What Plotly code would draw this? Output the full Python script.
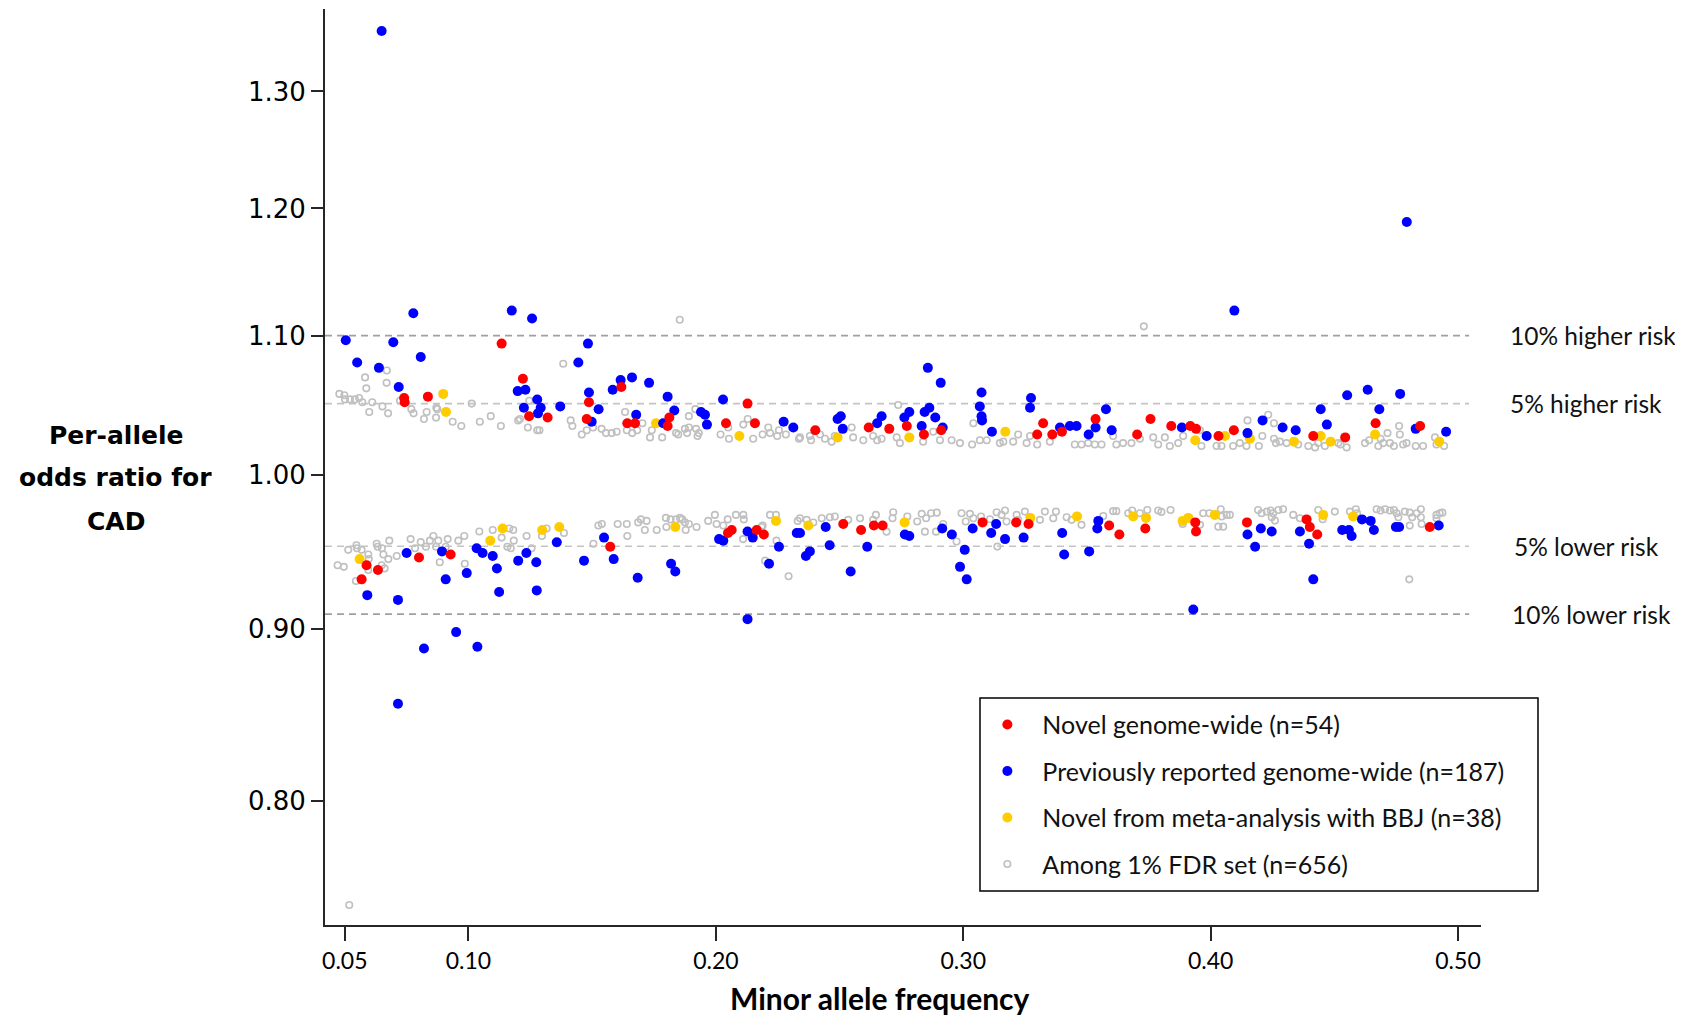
import math
import plotly.graph_objects as go

# ---------------- data ----------------
novel_maf = [0.1134, 0.0740, 0.0742, 0.0836, 0.1220, 0.1245, 0.1320, 0.1618, 0.1487, 0.1478,
             0.1642, 0.1673, 0.1812, 0.1805, 0.2041, 0.2128, 0.2158, 0.2402, 0.2618, 0.2701,
             0.2772, 0.2841, 0.2911, 0.3299, 0.3323, 0.3360, 0.3399, 0.3535, 0.3703, 0.3757,
             0.3841, 0.3918, 0.3941, 0.4032, 0.4094, 0.4667, 0.4847, 0.4415, 0.4544,
             0.0568, 0.0588, 0.0634, 0.0800, 0.0928, 0.1573, 0.2049, 0.2064, 0.2165, 0.2194,
             0.2515, 0.2587, 0.2639, 0.2674, 0.3078, 0.3214, 0.3264, 0.3590, 0.3631, 0.3736,
             0.3938, 0.3941, 0.4147, 0.4388, 0.4401, 0.4431, 0.4886]
novel_or = [1.094, 1.054, 1.051, 1.055, 1.068, 1.041, 1.040, 1.062, 1.051, 1.039,
            1.036, 1.036, 1.040, 1.034, 1.036, 1.050, 1.036, 1.031, 1.033, 1.032,
            1.034, 1.028, 1.031, 1.028, 1.036, 1.028, 1.030, 1.039, 1.028, 1.039,
            1.034, 1.034, 1.032, 1.027, 1.031, 1.036, 1.034, 1.027, 1.026,
            0.931, 0.940, 0.937, 0.945, 0.947, 0.952, 0.961, 0.963, 0.963, 0.960,
            0.967, 0.963, 0.966, 0.966, 0.968, 0.968, 0.967, 0.966, 0.960, 0.964,
            0.968, 0.962, 0.968, 0.970, 0.965, 0.960, 0.965]

prev_maf = [0.0649, 0.0504, 0.0550, 0.0638, 0.0696, 0.0777, 0.0807, 0.0718, 0.1175, 0.1257,
            0.1483, 0.1444, 0.1199, 0.1230, 0.1278, 0.1224, 0.1292, 0.1281, 0.1371, 0.1487,
            0.1498, 0.1526, 0.1583, 0.1615, 0.1661, 0.1730, 0.1678, 0.1805, 0.1832, 0.1787,
            0.1940, 0.1956, 0.1964, 0.2029, 0.2274, 0.2313,
            0.4096, 0.2857, 0.2909, 0.3074, 0.3067, 0.3074, 0.3076, 0.3274, 0.3270, 0.2492,
            0.2505, 0.2513, 0.2652, 0.2670, 0.2762, 0.2782, 0.2832, 0.2844, 0.2863, 0.2887,
            0.2917, 0.3116, 0.3391, 0.3431, 0.3458, 0.3507, 0.3535, 0.3577, 0.3600, 0.3884,
            0.3984, 0.4149, 0.4210, 0.4291, 0.4344,
            0.4552, 0.4635, 0.4766, 0.4445, 0.4682, 0.4470, 0.4829, 0.4952, 0.4793,
            0.0591, 0.0715, 0.0715, 0.0750, 0.0820, 0.0893, 0.0908, 0.0950, 0.0993, 0.1036,
            0.1033, 0.1057, 0.1098, 0.1115, 0.1124, 0.1201, 0.1234, 0.1274, 0.1276, 0.1357,
            0.1467, 0.1548, 0.1587, 0.1684, 0.1819, 0.1836, 0.2013, 0.2030, 0.2128, 0.2149,
            0.2128, 0.2215, 0.2255, 0.2327,
            0.3930, 0.2340, 0.2364, 0.2380, 0.2444, 0.2460, 0.2545, 0.2612, 0.2764, 0.2782,
            0.2915, 0.2954, 0.2987, 0.3006, 0.3014, 0.3038, 0.3113, 0.3133, 0.3169, 0.3244,
            0.3400, 0.3408, 0.3509, 0.3542, 0.3546, 0.4149, 0.4180, 0.4203, 0.4247, 0.4361,
            0.4415, 0.4398, 0.4532, 0.4559, 0.4570, 0.4612, 0.4647, 0.4660, 0.4749, 0.4762,
            0.4922]
prev_or = [1.355, 1.0965, 1.080, 1.076, 1.095, 1.117, 1.084, 1.062, 1.119, 1.113,
           1.094, 1.080, 1.059, 1.060, 1.053, 1.047, 1.047, 1.043, 1.048, 1.058,
           1.037, 1.046, 1.060, 1.067, 1.069, 1.065, 1.042, 1.055, 1.045, 1.036,
           1.044, 1.042, 1.035, 1.053, 1.037, 1.033,
           1.119, 1.076, 1.065, 1.058, 1.048, 1.041, 1.038, 1.054, 1.047, 1.039,
           1.041, 1.032, 1.036, 1.041, 1.040, 1.044, 1.034, 1.044, 1.047, 1.040,
           1.033, 1.030, 1.033, 1.034, 1.034, 1.028, 1.033, 1.046, 1.031, 1.033,
           1.027, 1.029, 1.038, 1.033, 1.031,
           1.056, 1.060, 1.057, 1.046, 1.046, 1.035, 1.032, 1.030, 1.189,
           0.921, 0.918, 0.855, 0.948, 0.888, 0.949, 0.931, 0.898, 0.935, 0.889,
           0.951, 0.948, 0.946, 0.938, 0.923, 0.943, 0.948, 0.942, 0.924, 0.955,
           0.943, 0.958, 0.944, 0.932, 0.941, 0.936, 0.957, 0.956, 0.962, 0.958,
           0.906, 0.941, 0.952, 0.961,
           0.912, 0.961, 0.946, 0.949, 0.965, 0.953, 0.936, 0.952, 0.960, 0.959,
           0.964, 0.960, 0.939, 0.950, 0.931, 0.964, 0.961, 0.967, 0.957, 0.958,
           0.961, 0.947, 0.949, 0.964, 0.969, 0.960, 0.952, 0.964, 0.962, 0.962,
           0.931, 0.954, 0.963, 0.963, 0.959, 0.970, 0.969, 0.963, 0.965, 0.965,
           0.966]

bbj_maf = [0.0898, 0.0909, 0.1758, 0.2095, 0.2492, 0.2782, 0.3170, 0.3938, 0.4058, 0.4159,
           0.4337, 0.4445, 0.4485, 0.4665, 0.4924,
           0.0560, 0.1088, 0.1138, 0.1298, 0.1367, 0.1836, 0.2243, 0.2374, 0.2763, 0.3271,
           0.3460, 0.3687, 0.3739, 0.3887, 0.3910, 0.4017, 0.4455, 0.4576]
bbj_or = [1.057, 1.044, 1.036, 1.027, 1.026, 1.026, 1.030, 1.024, 1.027, 1.025,
          1.023, 1.027, 1.023, 1.028, 1.023,
          0.944, 0.956, 0.964, 0.963, 0.965, 0.965, 0.969, 0.966, 0.968, 0.971,
          0.972, 0.972, 0.971, 0.969, 0.971, 0.973, 0.973, 0.972]

fdr_maf = [0.1854, 0.1383, 0.0582, 0.0587, 0.0670, 0.0669, 0.0478, 0.0498, 0.0501, 0.0521,
           0.0541, 0.0558, 0.0571, 0.0611, 0.0599, 0.0652, 0.0675, 0.0723, 0.0769, 0.0778,
           0.0820, 0.0831, 0.0870, 0.0874, 0.0869, 0.0936, 0.0971, 0.1013, 0.1046, 0.1090,
           0.1131, 0.1201, 0.1208, 0.1240, 0.1278, 0.1287, 0.1246, 0.1413, 0.1420, 0.1458,
           0.1478, 0.1504, 0.1538, 0.1556, 0.1579, 0.1599, 0.1633, 0.1640, 0.1662, 0.1682,
           0.1703, 0.1734, 0.1741, 0.1783, 0.1839, 0.1848, 0.1875, 0.1884, 0.1891, 0.1920,
           0.1926, 0.1931, 0.1891, 0.1917, 0.2019, 0.2053, 0.2050, 0.2111, 0.2129, 0.2151,
           0.2189, 0.2212, 0.2219, 0.2248, 0.2255, 0.2283, 0.2336,
           0.3730, 0.2737, 0.3041, 0.2549, 0.2340, 0.2380, 0.2385, 0.2421, 0.2441, 0.2468,
           0.2481, 0.2555, 0.2596, 0.2636, 0.2652, 0.2670, 0.2731, 0.2744, 0.2838, 0.2879,
           0.2906, 0.2953, 0.2987, 0.3036, 0.3067, 0.3095, 0.3148, 0.3162, 0.3202, 0.3222,
           0.3256, 0.3270, 0.3299, 0.3350, 0.3451, 0.3478, 0.3505, 0.3532, 0.3559, 0.3606,
           0.3619, 0.3646, 0.3680, 0.3714, 0.3768, 0.3788, 0.3815, 0.3835, 0.3869, 0.3889,
           0.3957, 0.3963, 0.4024, 0.4044, 0.4091, 0.4118, 0.4145, 0.4149,
           0.4233, 0.4256, 0.4209, 0.4195, 0.4256, 0.4264, 0.4280, 0.4307, 0.4354, 0.4395,
           0.4422, 0.4435, 0.4462, 0.4516, 0.4525, 0.4550, 0.4624, 0.4641, 0.4678, 0.4687,
           0.4698, 0.4715, 0.4725, 0.4762, 0.4765, 0.4741, 0.4778, 0.4792, 0.4829, 0.4859,
           0.4907, 0.4913, 0.4944,
           0.0518, 0.0471, 0.0496, 0.0514, 0.0547, 0.0549, 0.0568, 0.0545, 0.0595, 0.0597,
           0.0595, 0.0629, 0.0633, 0.0650, 0.0656, 0.0676, 0.0649, 0.0661, 0.0680, 0.0710,
           0.0766, 0.0784, 0.0807, 0.0828, 0.0844, 0.0858, 0.0869, 0.0878, 0.0908, 0.0916,
           0.0884, 0.0959, 0.0983, 0.0985, 0.1044, 0.1098, 0.1134, 0.1165, 0.1181, 0.1183,
           0.1157, 0.1171, 0.1235, 0.1255, 0.1316, 0.1297, 0.1386, 0.1505, 0.1525, 0.1539,
           0.1603, 0.1640, 0.1642, 0.1686, 0.1697, 0.1720, 0.1713, 0.1761, 0.1798, 0.1800,
           0.1817, 0.1839, 0.1855, 0.1864, 0.1875, 0.1891, 0.1878, 0.1922, 0.1969, 0.1996,
           0.2003, 0.2030, 0.2048, 0.2081, 0.2111, 0.2113, 0.2110, 0.2185, 0.2189, 0.2199,
           0.2219, 0.2243, 0.2245, 0.2294, 0.2331,
           0.2340, 0.2367, 0.2394, 0.2428, 0.2461, 0.2481, 0.2535, 0.2583, 0.2636, 0.2647,
           0.2690, 0.2717, 0.2714, 0.2774, 0.2814, 0.2832, 0.2850, 0.2870, 0.2893, 0.2845,
           0.2890, 0.2919, 0.2973, 0.2993, 0.3010, 0.3027, 0.3041, 0.3072, 0.3108, 0.3135,
           0.3138, 0.3155, 0.3169, 0.3175, 0.3216, 0.3222, 0.3249, 0.3310, 0.3330, 0.3364,
           0.3375, 0.3418, 0.3438, 0.3478, 0.3566, 0.3606, 0.3619, 0.3667, 0.3683, 0.3714,
           0.3744, 0.3788, 0.3801, 0.3838, 0.3887, 0.3957, 0.3970, 0.3995, 0.4031, 0.4041,
           0.4051, 0.4045, 0.4065, 0.4078,
           0.4192, 0.4206, 0.4227, 0.4243, 0.4253, 0.4247, 0.4260, 0.4274, 0.4293, 0.4334,
           0.4361, 0.4435, 0.4453, 0.4502, 0.4563, 0.4587, 0.4592, 0.4671, 0.4687, 0.4705,
           0.4725, 0.4741, 0.4752, 0.4759, 0.4785, 0.4805, 0.4815, 0.4833, 0.4850, 0.4850,
           0.4853, 0.4805, 0.4913, 0.4926, 0.4937, 0.4913, 0.4803]
fdr_or = [1.112, 1.079, 1.069, 1.061, 1.074, 1.065, 1.057, 1.056, 1.053, 1.053,
          1.053, 1.054, 1.051, 1.051, 1.044, 1.048, 1.043, 1.052, 1.046, 1.043,
          1.039, 1.044, 1.047, 1.046, 1.040, 1.037, 1.034, 1.050, 1.037, 1.041,
          1.034, 1.038, 1.039, 1.033, 1.031, 1.031, 1.052, 1.038, 1.034, 1.028,
          1.031, 1.033, 1.032, 1.029, 1.029, 1.030, 1.044, 1.031, 1.029, 1.031,
          1.036, 1.026, 1.031, 1.026, 1.029, 1.028, 1.032, 1.029, 1.033, 1.032,
          1.027, 1.029, 1.041, 1.046, 1.028, 1.025, 1.033, 1.035, 1.039, 1.025,
          1.028, 1.033, 1.029, 1.027, 1.031, 1.028, 1.025,
          1.107, 1.049, 1.036, 1.033, 1.026, 1.027, 1.024, 1.028, 1.025, 1.023,
          1.027, 1.026, 1.024, 1.027, 1.024, 1.025, 1.026, 1.022, 1.023, 1.030,
          1.024, 1.024, 1.022, 1.021, 1.024, 1.024, 1.022, 1.023, 1.023, 1.028,
          1.022, 1.027, 1.021, 1.023, 1.021, 1.021, 1.022, 1.021, 1.021, 1.027,
          1.021, 1.022, 1.022, 1.025, 1.026, 1.021, 1.026, 1.020, 1.022, 1.027,
          1.031, 1.020, 1.020, 1.020, 1.020, 1.022, 1.020, 1.038,
          1.042, 1.036, 1.027, 1.020, 1.025, 1.022, 1.023, 1.022, 1.021, 1.020,
          1.019, 1.022, 1.020, 1.022, 1.021, 1.019, 1.022, 1.024, 1.020, 1.025,
          1.022, 1.029, 1.022, 1.034, 1.028, 1.020, 1.021, 1.022, 1.020, 1.020,
          1.026, 1.021, 1.020,
          0.745, 0.940, 0.939, 0.950, 0.953, 0.951, 0.950, 0.930, 0.947, 0.944,
          0.937, 0.954, 0.952, 0.951, 0.947, 0.944, 0.940, 0.938, 0.956, 0.946,
          0.957, 0.951, 0.955, 0.952, 0.956, 0.959, 0.952, 0.956, 0.952, 0.957,
          0.942, 0.956, 0.959, 0.941, 0.962, 0.963, 0.958, 0.964, 0.963, 0.956,
          0.952, 0.951, 0.959, 0.951, 0.964, 0.959, 0.961, 0.954, 0.966, 0.967,
          0.967, 0.967, 0.959, 0.968, 0.970, 0.969, 0.963, 0.963, 0.971, 0.965,
          0.970, 0.970, 0.971, 0.970, 0.968, 0.967, 0.963, 0.965, 0.969, 0.973,
          0.967, 0.966, 0.970, 0.973, 0.973, 0.970, 0.957, 0.965, 0.966, 0.943,
          0.973, 0.973, 0.956, 0.933, 0.969,
          0.9708, 0.9697, 0.9679, 0.9708, 0.9714, 0.9719, 0.9697, 0.9708, 0.9697, 0.9730,
          0.9619, 0.9748, 0.9708, 0.9719, 0.9686, 0.9737, 0.9708, 0.9741, 0.9745, 0.9619,
          0.9619, 0.9670, 0.9554, 0.9741, 0.9686, 0.9737, 0.9708, 0.9719, 0.9701, 0.9748,
          0.9521, 0.9730, 0.9759, 0.9686, 0.9730, 0.9697, 0.9752, 0.9697, 0.9752, 0.9708,
          0.9752, 0.9714, 0.9697, 0.9664, 0.9723, 0.9755, 0.9755, 0.9741, 0.9759, 0.9741,
          0.9763, 0.9759, 0.9750, 0.9763, 0.9670, 0.9664, 0.9741, 0.9741, 0.9652, 0.9768,
          0.9652, 0.9719, 0.9730, 0.9730,
          0.9763, 0.9741, 0.9752, 0.9759, 0.9741, 0.9714, 0.9692, 0.9763, 0.9768, 0.9730,
          0.9708, 0.9763, 0.9701, 0.9752, 0.9752, 0.9768, 0.9741, 0.9768, 0.9759, 0.9768,
          0.9759, 0.9763, 0.9741, 0.9714, 0.9752, 0.9745, 0.9714, 0.9741, 0.9768, 0.9714,
          0.9670, 0.9659, 0.9730, 0.9741, 0.9745, 0.9708, 0.931]

series_names = ["Novel genome-wide (n=54)",
                "Previously reported genome-wide (n=187)",
                "Novel from meta-analysis with BBJ (n=38)",
                "Among 1% FDR set (n=656)"]

risk_levels = [1.10, 1.05, 1 / 1.05, 1 / 1.10]
risk_labels = ["10% higher risk", "5% higher risk", "5% lower risk", "10% lower risk"]

x_ticks = [0.05, 0.10, 0.20, 0.30, 0.40, 0.50]
y_ticks = [0.80, 0.90, 1.00, 1.10, 1.20, 1.30]

# axis extents (data units)
x_range = [0.042, 0.5093]
ref_line_span = [0.042, 0.5045]
y_range = [0.7349, 1.3755]

# ---------------- figure ----------------
RED = "#ff0000"
BLUE = "#0000ff"
GOLD = "#ffcc00"
GREY = "#c0c0c0"
SANS = "Lato, Open Sans, sans-serif"

fig = go.Figure()

# dashed reference lines (drawn first, under the points)
line_colors = ["#a0a0a0", "#c4c4c4", "#c4c4c4", "#a0a0a0"]
for lvl, col in zip(risk_levels, line_colors):
    fig.add_trace(go.Scatter(
        x=ref_line_span, y=[lvl, lvl], mode="lines", showlegend=False, hoverinfo="skip",
        line=dict(color=col, width=1.6, dash="7px,5px")))

fig.add_trace(go.Scatter(
    x=fdr_maf, y=fdr_or, mode="markers", name=series_names[3],
    legendrank=4, legendgroup="d",
    marker=dict(symbol="circle-open", size=6.5, color=GREY, line=dict(width=1.6, color=GREY))))
fig.add_trace(go.Scatter(
    x=bbj_maf, y=bbj_or, mode="markers", name=series_names[2],
    legendrank=3, legendgroup="c",
    marker=dict(symbol="circle", size=10, color=GOLD, line=dict(width=0))))
fig.add_trace(go.Scatter(
    x=prev_maf, y=prev_or, mode="markers", name=series_names[1],
    legendrank=2, legendgroup="b",
    marker=dict(symbol="circle", size=10, color=BLUE, line=dict(width=0))))
fig.add_trace(go.Scatter(
    x=novel_maf, y=novel_or, mode="markers", name=series_names[0],
    legendrank=1, legendgroup="a",
    marker=dict(symbol="circle", size=10, color=RED, line=dict(width=0))))

# risk labels on the right
label_x = [1.0234, 1.0234, 1.0272, 1.0251]
for lvl, lab, lx in zip(risk_levels, risk_labels, label_x):
    fig.add_annotation(xref="paper", yref="y", x=lx, y=math.log10(lvl), text=lab,
                       showarrow=False, xanchor="left", yanchor="middle",
                       font=dict(family=SANS, size=24.5, color="#111111"))

# y-axis title (three lines)
for txt, py in zip(["Per-allele", "odds ratio for", "CAD"], [0.5349, 0.4880, 0.4410]):
    fig.add_annotation(xref="paper", yref="paper", x=-0.1808, y=py, text=f"<b>{txt}</b>",
                       showarrow=False, xanchor="center", yanchor="middle",
                       font=dict(family="DejaVu Sans", size=25, color="#000000"))

# x-axis title
fig.add_annotation(xref="paper", yref="paper", x=0.4801, y=-0.0797,
                   text="<b>Minor allele frequency</b>", showarrow=False,
                   xanchor="center", yanchor="middle",
                   font=dict(family=SANS, size=30, color="#000000"))

# legend frame
fig.add_shape(type="rect", xref="paper", yref="paper", x0=0.5666, x1=1.0493,
              y0=0.0371, y1=0.2478, line=dict(color="#000000", width=1.5),
              fillcolor="rgba(0,0,0,0)", layer="above")

# page body has an 8px margin: shrink figure and margins so the plot area lands
# at the same place as in the reference (plot area 325..1481 x 9..925)
fig.update_layout(
    width=1667, height=1011,
    margin=dict(l=317, r=194, t=1, b=94),
    paper_bgcolor="white", plot_bgcolor="white",
    showlegend=True,
    legend=dict(x=0.560, y=0.2438, xanchor="left", yanchor="top",
                bgcolor="rgba(0,0,0,0)", borderwidth=0, tracegroupgap=11,
                itemwidth=60,
                font=dict(family=SANS, size=25, color="#111111")),
    xaxis=dict(range=x_range, tickvals=x_ticks, tickformat=".2f",
               showgrid=False, zeroline=False, showline=True, linecolor="#262626",
               linewidth=2, ticks="outside", ticklen=14, tickwidth=1.5, tickcolor="#262626",
               tickfont=dict(family=SANS, size=23, color="#000000")),
    yaxis=dict(type="log", range=[math.log10(y_range[0]), math.log10(y_range[1])],
               tickvals=y_ticks, tickformat=".2f",
               showgrid=False, zeroline=False, showline=True, linecolor="#262626",
               linewidth=2, ticks="outside", ticklen=12, tickwidth=1.5, tickcolor="#262626",
               tickfont=dict(family="DejaVu Sans", size=26, color="#000000")),
)

fig.write_html("out.html")
